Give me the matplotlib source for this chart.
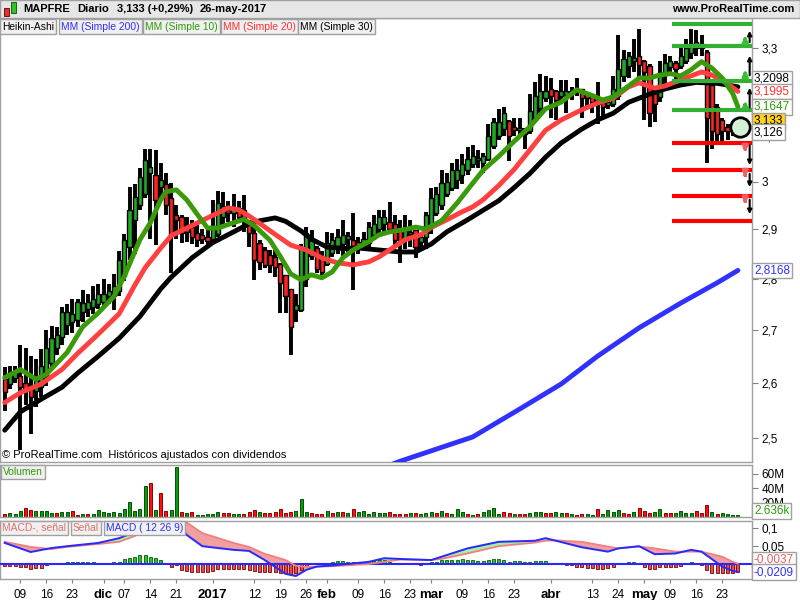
import numpy as np
import pandas as pd
import matplotlib
matplotlib.use('Agg')
import matplotlib.pyplot as plt
import matplotlib.transforms as mtransforms
from matplotlib.patches import Rectangle
from matplotlib.ticker import NullLocator, NullFormatter

plt.rcParams['font.family'] = ['Liberation Sans', 'DejaVu Sans']

# --- data -------------------------------------------------------------
# trading days of the Madrid exchange
holidays = ['2016-12-26', '2017-04-14', '2017-04-17', '2017-05-01']
dates = pd.bdate_range('2016-11-04', '2017-05-26', freq='C', holidays=holidays)

# Heikin-Ashi candles (open, close, high, low)
ha_open = [2.607, 2.598, 2.610, 2.612, 2.600, 2.592, 2.585, 2.592, 2.612, 2.638,
           2.665, 2.686, 2.710, 2.715, 2.720, 2.735, 2.740, 2.745, 2.750, 2.755,
           2.765, 2.765, 2.775, 2.806, 2.865, 2.920, 2.950, 2.975, 3.020, 3.015,
           2.990, 2.995, 2.966, 2.930, 2.926, 2.910, 2.905, 2.893, 2.888, 2.884,
           2.880, 2.890, 2.925, 2.940, 2.935, 2.945, 2.940, 2.912, 2.893, 2.873,
           2.858, 2.848, 2.844, 2.830, 2.808, 2.780, 2.738, 2.739, 2.800, 2.846,
           2.862, 2.842, 2.830, 2.852, 2.866, 2.870, 2.880, 2.879, 2.875, 2.866,
           2.873, 2.889, 2.900, 2.912, 2.916, 2.912, 2.899, 2.880, 2.890, 2.899,
           2.874, 2.884, 2.905, 2.935, 2.952, 2.975, 2.986, 3.005, 3.015, 3.025,
           3.038, 3.046, 3.040, 3.050, 3.078, 3.100, 3.115, 3.132, 3.120, 3.112,
           3.115, 3.110, 3.135, 3.162, 3.185, 3.205, 3.200, 3.190, 3.192, 3.195,
           3.198, 3.205, 3.195, 3.190, 3.182, 3.176, 3.168, 3.172, 3.190, 3.235,
           3.258, 3.270, 3.280, 3.270, 3.258, 3.200, 3.186, 3.240, 3.255, 3.265,
           3.258, 3.270, 3.288, 3.300, 3.310, 3.290, 3.215, 3.165, 3.135, 3.120,
           3.115, 3.112]
ha_close = [2.584, 2.620, 2.620, 2.592, 2.588, 2.575, 2.605, 2.632, 2.665, 2.685,
            2.690, 2.735, 2.735, 2.730, 2.755, 2.752, 2.755, 2.760, 2.770, 2.770,
            2.775, 2.785, 2.838, 2.879, 2.941, 2.968, 3.010, 3.047, 3.032, 2.962,
            3.005, 2.950, 2.889, 2.920, 2.893, 2.895, 2.885, 2.878, 2.880, 2.876,
            2.905, 2.955, 2.948, 2.935, 2.945, 2.925, 2.917, 2.893, 2.838, 2.834,
            2.828, 2.828, 2.824, 2.792, 2.765, 2.706, 2.748, 2.864, 2.893, 2.879,
            2.820, 2.814, 2.873, 2.879, 2.885, 2.889, 2.886, 2.866, 2.860, 2.880,
            2.905, 2.912, 2.926, 2.926, 2.900, 2.879, 2.872, 2.899, 2.895, 2.864,
            2.884, 2.930, 2.966, 2.975, 2.997, 3.000, 3.025, 3.025, 3.038, 3.050,
            3.055, 3.052, 3.055, 3.100, 3.130, 3.130, 3.150, 3.100, 3.112, 3.118,
            3.105, 3.155, 3.190, 3.200, 3.200, 3.190, 3.180, 3.200, 3.200, 3.200,
            3.206, 3.185, 3.185, 3.175, 3.170, 3.165, 3.176, 3.205, 3.250, 3.275,
            3.280, 3.276, 3.260, 3.245, 3.150, 3.172, 3.245, 3.265, 3.270, 3.250,
            3.280, 3.300, 3.310, 3.315, 3.300, 3.140, 3.110, 3.105, 3.110, 3.110,
            3.110, 3.120]
ha_high = [2.630, 2.632, 2.632, 2.672, 2.665, 2.650, 2.645, 2.663, 2.700, 2.708,
           2.705, 2.745, 2.750, 2.760, 2.760, 2.778, 2.770, 2.785, 2.790, 2.800,
           2.790, 2.810, 2.855, 2.890, 2.990, 2.995, 3.030, 3.070, 3.072, 3.069,
           3.040, 3.020, 2.998, 2.950, 2.930, 2.925, 2.920, 2.910, 2.900, 2.900,
           2.962, 2.980, 2.978, 2.960, 2.975, 2.960, 2.972, 2.920, 2.905, 2.879,
           2.864, 2.858, 2.858, 2.832, 2.808, 2.780, 2.770, 2.870, 2.905, 2.899,
           2.866, 2.856, 2.895, 2.893, 2.900, 2.920, 2.895, 2.935, 2.885, 2.895,
           2.915, 2.930, 2.940, 2.940, 2.958, 2.930, 2.920, 2.930, 2.920, 2.899,
           2.890, 2.937, 2.987, 2.990, 3.025, 3.020, 3.040, 3.050, 3.060, 3.075,
           3.080, 3.068, 3.062, 3.125, 3.140, 3.160, 3.165, 3.135, 3.140, 3.140,
           3.117, 3.193, 3.220, 3.240, 3.235, 3.230, 3.202, 3.225, 3.225, 3.210,
           3.230, 3.206, 3.196, 3.192, 3.220, 3.185, 3.186, 3.235, 3.330, 3.295,
           3.290, 3.320, 3.345, 3.272, 3.262, 3.210, 3.270, 3.285, 3.280, 3.270,
           3.300, 3.320, 3.345, 3.342, 3.330, 3.295, 3.225, 3.170, 3.140, 3.125,
           3.125, 3.135]
ha_low = [2.549, 2.588, 2.600, 2.478, 2.560, 2.507, 2.555, 2.575, 2.595, 2.626,
          2.652, 2.672, 2.690, 2.695, 2.705, 2.715, 2.725, 2.730, 2.740, 2.745,
          2.750, 2.739, 2.765, 2.795, 2.838, 2.850, 2.940, 2.966, 2.880, 2.868,
          2.960, 2.930, 2.812, 2.880, 2.872, 2.875, 2.870, 2.865, 2.870, 2.862,
          2.875, 2.885, 2.905, 2.915, 2.905, 2.915, 2.895, 2.864, 2.798, 2.818,
          2.822, 2.812, 2.804, 2.733, 2.733, 2.653, 2.716, 2.735, 2.784, 2.838,
          2.812, 2.806, 2.826, 2.844, 2.850, 2.844, 2.852, 2.778, 2.850, 2.858,
          2.865, 2.879, 2.893, 2.890, 2.895, 2.865, 2.832, 2.860, 2.865, 2.842,
          2.855, 2.860, 2.890, 2.928, 2.940, 2.968, 2.980, 2.985, 2.995, 3.015,
          3.030, 3.030, 3.020, 3.045, 3.070, 3.090, 3.100, 3.045, 3.100, 3.100,
          3.070, 3.105, 3.130, 3.150, 3.175, 3.140, 3.135, 3.170, 3.150, 3.180,
          3.190, 3.140, 3.160, 3.150, 3.125, 3.145, 3.160, 3.165, 3.180, 3.220,
          3.230, 3.245, 3.230, 3.135, 3.120, 3.130, 3.175, 3.200, 3.240, 3.220,
          3.250, 3.262, 3.275, 3.280, 3.280, 3.040, 3.070, 3.080, 3.085, 3.090,
          3.100, 3.100]

# simple moving averages, read at sample bars
ma10_idx = [0, 3, 6, 8, 12, 15, 18, 21, 23, 26, 28, 30, 31, 33, 35, 37, 39, 41, 44, 46,
            48, 51, 53, 55, 57, 59, 61, 63, 65, 67, 70, 72, 74, 77, 79, 81, 84, 87, 90, 92,
            95, 98, 101, 104, 107, 110, 113, 115, 117, 120, 122, 124, 126, 128, 130, 132,
            134, 136, 138, 140, 141]
ma10 = [2.610, 2.625, 2.607, 2.616, 2.657, 2.706, 2.733, 2.765, 2.805, 2.879,
        2.914, 2.962, 2.979, 2.983, 2.962, 2.932, 2.903, 2.903, 2.914, 2.921,
        2.908, 2.878, 2.845, 2.810, 2.798, 2.808, 2.802, 2.814, 2.842, 2.858,
        2.875, 2.889, 2.895, 2.900, 2.905, 2.901, 2.918, 2.955, 2.997, 3.025,
        3.055, 3.088, 3.120, 3.160, 3.175, 3.203, 3.190, 3.180, 3.187, 3.212,
        3.230, 3.230, 3.237, 3.240, 3.235, 3.249, 3.268, 3.253, 3.230, 3.195,
        3.1647]
ma20_idx = [0, 3, 7, 11, 14, 18, 22, 25, 27, 30, 32, 35, 39, 43, 45, 47, 49, 52, 55, 58,
            61, 64, 67, 70, 72, 75, 77, 80, 82, 85, 88, 90, 92, 95, 98, 101, 104, 107, 111,
            114, 117, 120, 122, 125, 127, 130, 134, 136, 139, 141]
ma20 = [2.564, 2.582, 2.598, 2.625, 2.655, 2.692, 2.731, 2.787, 2.822, 2.862,
        2.887, 2.903, 2.924, 2.945, 2.941, 2.928, 2.913, 2.890, 2.868, 2.858,
        2.842, 2.832, 2.828, 2.834, 2.844, 2.865, 2.879, 2.889, 2.904, 2.920,
        2.937, 2.947, 2.962, 2.992, 3.027, 3.069, 3.112, 3.135, 3.158, 3.173,
        3.184, 3.210, 3.219, 3.207, 3.212, 3.226, 3.244, 3.237, 3.217, 3.1995]
ma30_idx = [0, 3, 7, 11, 14, 18, 22, 26, 30, 32, 36, 40, 44, 47, 49, 52, 54, 57, 59, 62,
            65, 68, 72, 76, 79, 82, 85, 89, 92, 95, 98, 101, 104, 107, 111, 114, 117, 120,
            124, 127, 130, 133, 137, 141]
ma30 = [2.514, 2.547, 2.570, 2.592, 2.618, 2.650, 2.684, 2.726, 2.780, 2.803,
        2.842, 2.873, 2.895, 2.912, 2.918, 2.924, 2.917, 2.897, 2.880, 2.864,
        2.861, 2.862, 2.858, 2.854, 2.854, 2.870, 2.895, 2.920, 2.940, 2.960,
        2.988, 3.018, 3.053, 3.084, 3.115, 3.135, 3.150, 3.175, 3.193, 3.205,
        3.214, 3.220, 3.218, 3.2098]
ma200_idx = [74, 76, 90, 99, 107, 114, 122, 130, 137, 141]
ma200 = [2.452, 2.459, 2.502, 2.552, 2.598, 2.650, 2.704, 2.752, 2.792, 2.8168]

# support / resistance levels drawn on the right
res_levels = [3.357, 3.305, 3.224, 3.157]
sup_levels = [3.085, 3.025, 2.970, 2.918]

# volume (millions) and bar colour
volume = [4.0, 5.4, 4.0, 7.8, 12.0, 9.2, 7.8, 7.8, 7.8, 5.0,
          5.0, 6.4, 6.4, 7.8, 2.6, 3.6, 3.6, 3.6, 9.2, 6.4,
          5.4, 6.4, 5.4, 10.6, 20.4, 7.8, 10.6, 42.8, 47.4, 9.2,
          33.4, 7.8, 9.2, 69.4, 6.4, 5.0, 6.4, 2.2, 2.2, 3.6,
          3.6, 6.4, 5.0, 5.0, 3.6, 3.6, 3.6, 6.4, 9.2, 6.4,
          5.0, 5.0, 6.4, 11.0, 5.4, 6.4, 7.8, 24.6, 6.4, 5.0,
          3.6, 3.6, 7.8, 5.0, 6.4, 6.4, 5.0, 10.6, 6.4, 7.8,
          3.6, 6.4, 5.0, 5.0, 6.4, 3.6, 3.6, 3.6, 5.0, 5.0,
          3.6, 5.0, 6.4, 5.0, 7.8, 5.0, 3.6, 10.6, 6.4, 3.6,
          2.2, 3.6, 6.4, 9.2, 12.0, 3.6, 6.4, 5.0, 3.6, 3.6,
          3.6, 5.0, 6.4, 6.4, 5.0, 5.0, 6.4, 5.0, 5.0, 3.6,
          2.2, 3.6, 3.6, 2.2, 10.6, 3.6, 9.2, 6.4, 9.2, 5.0,
          3.6, 6.4, 12.0, 7.8, 5.0, 6.4, 10.6, 5.0, 5.0, 5.0,
          7.8, 5.0, 5.0, 7.8, 5.0, 16.6, 6.4, 3.6, 5.0, 3.6,
          2.2, 2.6]
vol_dir = ('rgggrrgggg' 'rggrrgrggg' 'ggggggggrg' 'rrggrgrggg' 'ggrrggrrrg'
           'rrrrrrgggr' 'rrgrgrgrgg' 'ggggrrrrgr' 'gggrgrgggr' 'grggggrrgr'
           'rgggrrggrg' 'rrggrggggr' 'rgrrrggrrg' 'gggrrrgrgg' 'gg')

# MACD (12 26 9): lines read at sample bars, histogram per bar
macd_idx = [0, 5, 9, 12, 18, 22, 25, 27, 29, 31, 33, 35, 38, 44, 47, 50, 54, 56, 58, 60,
            63, 70, 73, 76, 82, 84, 89, 95, 102, 104, 106, 111, 116, 118, 122, 125, 129,
            132, 134, 138, 140, 141]
macd = [0.059, 0.034, 0.045, 0.050, 0.059, 0.072, 0.089, 0.108, 0.128, 0.135,
        0.118, 0.081, 0.050, 0.040, 0.037, 0.012, -0.026, -0.032, -0.015, -0.006,
        -0.003, 0.007, 0.017, 0.015, 0.012, 0.021, 0.044, 0.062, 0.065, 0.072,
        0.065, 0.047, 0.035, 0.044, 0.050, 0.028, 0.030, 0.040, 0.035, -0.006,
        -0.018, -0.0209]
signal = [0.062, 0.048, 0.042, 0.048, 0.056, 0.062, 0.078, 0.094, 0.108, 0.120,
          0.128, 0.115, 0.086, 0.059, 0.048, 0.029, 0.012, -0.004, -0.007, -0.006,
          -0.005, 0.001, 0.007, 0.013, 0.012, 0.015, 0.030, 0.050, 0.060, 0.065,
          0.066, 0.062, 0.049, 0.044, 0.049, 0.044, 0.035, 0.035, 0.035, 0.021,
          0.007, 0.002]
macd_hist = [-4.7, -4.7, -4.7, -6.3, -8.3, -13.8, -11, -9.1, -2.75, 0.5,
             0, 4.7, 7.4, 7.4, 7.4, 7.4, 7.4, 7.4, 4.7, 4.7,
             4.7, 7.4, 7.4, 13.8, 18.4, 21.2, 25.6, 25.6, 19.3, 18.4,
             11.8, 0.5, -6.3, -2, -15.7, -18.4, -20, -20, -20, -20,
             -17.3, -13.8, -11.8, -11.8, -11.8, -11.8, -12.9, -15.7, -18.4, -20,
             -20, -22, -22, -24.8, -24.8, -27.5, -24.8, -15.7, -4.7, 2.75,
             0, 0, 4.7, 7.4, 9.1, 9.1, 7.4, 7.4, 4.7, 7.4,
             9.1, 9.1, 11.8, 11.8, 7.4, 4.7, 2.75, 2.75, 2.75, 0,
             -2.75, 0, 5.5, 5.5, 11.8, 11.8, 11.8, 11.8, 13.8, 11.8,
             11.8, 9.1, 9.1, 11.8, 14.6, 14.6, 11.8, 7.4, 9.1, 9.1,
             5.5, 5.5, 9.1, 9.1, 9.1, 2.75, 0, 0, -2.75, -2.75,
             -6.3, -8.3, -11, -11, -13.8, -13.8, -11, -8.3, 0, 2.75,
             5.5, 5.5, 0, -8.3, -12.9, -12.9, -8.3, -8.3, -6.3, -6.3,
             -4.7, 0, 5.5, 2.75, -2.75, -15.7, -22.8, -24.8, -24.8, -24.8,
             -22.8, -20]  # in thousandths

tick_dates = ['2016-11-09', '2016-11-16', '2016-11-23', '2016-12-01', '2016-12-07',
              '2016-12-14', '2016-12-21', '2017-01-02', '2017-01-12', '2017-01-19',
              '2017-01-26', '2017-02-01', '2017-02-09', '2017-02-16', '2017-02-23',
              '2017-03-01', '2017-03-09', '2017-03-16', '2017-03-23', '2017-04-03',
              '2017-04-13', '2017-04-24', '2017-05-02', '2017-05-09', '2017-05-16',
              '2017-05-23']
tick_labels = ['09', '16', '23', 'dic', '07', '14', '21', '2017', '12', '19', '26', 'feb',
               '09', '16', '23', 'mar', '09', '16', '23', 'abr', '13', '24', 'may', '09',
               '16', '23']
month_labels = ['dic', '2017', 'feb', 'mar', 'abr', 'may']

# --- figure -----------------------------------------------------------
W, H = 800, 600
fig = plt.figure(figsize=(8, 6), dpi=100)
fig.patch.set_facecolor('white')

def fx(px):
    return px / W

def fy(py):
    return 1 - py / H

ax = fig.add_axes([0.0, fy(462), fx(752), (462 - 18) / H])
axv = fig.add_axes([0.0, fy(517), fx(752), 52 / H])
axm = fig.add_axes([0.0, fy(579), fx(752), 58 / H])

x = np.arange(len(dates))
o = np.array(ha_open)
c = np.array(ha_close)
GREEN = '#22a822'
RED = '#ff2222'
GREY = '#a0a0a0'

# Heikin-Ashi candles
ax.vlines(x, ha_low, ha_high, color='black', lw=2.8, zorder=2)
body_col = np.where(c >= o, GREEN, RED)
ax.bar(x, c - o, bottom=o, width=0.78, color=body_col, edgecolor='black', lw=1.0, zorder=3)

# moving averages
ax.plot(ma200_idx, ma200, color='#3030ff', lw=3.5, zorder=4, solid_capstyle='round')
ax.plot(ma30_idx, ma30, color='black', lw=3.5, zorder=4, solid_capstyle='round')
ax.plot(ma20_idx, ma20, color='#ff4040', lw=3.5, zorder=5, solid_capstyle='round')
ax.plot(ma10_idx, ma10, color='#3a9a0a', lw=3.5, zorder=6, solid_capstyle='round')

# support / resistance lines with arrows
sr_start = (672 - 4.7) / 5.2
x_right = (752 - 4.7) / 5.2
ax.hlines(res_levels, sr_start, x_right, color='#33b033', lw=3, zorder=7)
ax.hlines(sup_levels, sr_start, x_right, color='#ff0000', lw=3, zorder=7)
arr_x = x_right - 1.3
blk_x = x_right - 0.45
for lo, hi in [(3.312, 3.335), (3.230, 3.255), (3.158, 3.184)]:
    ax.annotate('', xy=(arr_x, hi), xytext=(arr_x, lo), zorder=8, annotation_clip=False,
                arrowprops=dict(arrowstyle='-|>', color='#33c033', lw=2.5, mutation_scale=7))
for hi, lo in [(3.080, 3.058), (3.021, 3.004), (2.966, 2.948)]:
    ax.annotate('', xy=(arr_x, lo), xytext=(arr_x, hi), zorder=8, annotation_clip=False,
                arrowprops=dict(arrowstyle='-|>', color='#f06060', lw=2.5, mutation_scale=7))
for lo, hi in [(3.307, 3.347), (3.230, 3.288), (3.157, 3.214)]:
    ax.annotate('', xy=(blk_x, hi), xytext=(blk_x, lo), zorder=8, annotation_clip=False,
                arrowprops=dict(arrowstyle='-|>', color='black', lw=1.5, mutation_scale=6))
for hi, lo in [(3.085, 3.030), (3.023, 2.983), (2.968, 2.926)]:
    ax.annotate('', xy=(blk_x, lo), xytext=(blk_x, hi), zorder=8, annotation_clip=False,
                arrowprops=dict(arrowstyle='-|>', color='black', lw=1.5, mutation_scale=6))

# marker on the last bar
ax.plot(x[-1] + 0.4, 3.12, 'o', ms=14, mfc='#d6f0d6', mec='black', mew=2, zorder=9)

ax.set_yscale('log')
ax.set_ylim(2.4578, 3.371)
price_ticks = [2.5, 2.6, 2.7, 2.8, 2.9, 3.0, 3.1, 3.2, 3.3]
price_labels = ['2,5', '2,6', '2,7', '2,8', '2,9', '3', '3,1', '3,2', '3,3']
ax.yaxis.set_minor_locator(NullLocator())
ax.yaxis.set_minor_formatter(NullFormatter())
ax.set_yticks(price_ticks, labels=price_labels)
for lab in ax.get_yticklabels():
    if lab.get_text() in ('3', '2,5'):
        lab.set_fontweight('bold')
        lab.set_fontsize(10)

for a in (ax, axv, axm):
    a.set_xlim(-4.7 / 5.2, x_right)
    a.yaxis.tick_right()
    a.tick_params(axis='y', direction='out', length=4, color='#808080', labelsize=8.5, pad=3)
    a.tick_params(axis='x', length=0, labelbottom=False)
    for s in a.spines.values():
        s.set_color(GREY)
        s.set_linewidth(1)
    a.set_facecolor('white')

# value boxes on the right edge
def value_box(a, val, txt, col, fc='white', dy=0):
    tr = mtransforms.blended_transform_factory(a.transAxes, a.transData)
    tr = mtransforms.offset_copy(tr, fig=fig, x=2, y=dy, units='dots')
    a.text(1.0, val, txt, transform=tr, color=col, fontsize=8.5, va='center', ha='left',
           zorder=20, clip_on=False,
           bbox=dict(boxstyle='square,pad=0.15', fc=fc, ec=GREY, lw=1))

value_box(ax, 3.2098, '3,2098', 'black', dy=8)
value_box(ax, 3.1995, '3,1995', '#ff3030')
value_box(ax, 3.1647, '3,1647', '#2f9a0a')
value_box(ax, 3.133, '3,133', 'black', fc='#ffd21f')
value_box(ax, 3.126, '3,126', 'black', dy=-8)
value_box(ax, 2.8168, '2,8168', '#3030ff')

# volume panel
vcol = ['#0a9a0a' if d == 'g' else '#ff1010' for d in vol_dir]
vedge = ['#035003' if d == 'g' else '#900000' for d in vol_dir]
axv.bar(x, volume, width=0.55, color=vcol, edgecolor=vedge, lw=0.7)
axv.set_ylim(0, 72)
axv.set_yticks([20, 40, 60], labels=['20M', '40M', '60M'])
value_box(axv, 2.636, '2.636k', '#2f9a0a', dy=4)

# MACD panel
mi = np.array(macd_idx)
mv = np.array(macd)
sv = np.array(signal)
axm.fill_between(mi, mv, sv, where=mv >= sv, interpolate=True, color='#a8eea0', lw=0)
axm.fill_between(mi, mv, sv, where=mv < sv, interpolate=True, color='#f0a0a0', lw=0)
hist = np.array(macd_hist) / 1000
hcol = ['#30c030' if h >= 0 else '#e05050' for h in hist]
hedge = ['#006000' if h >= 0 else '#800000' for h in hist]
axm.bar(x, hist, width=0.6, color=hcol, edgecolor=hedge, lw=0.6, zorder=3)
axm.axhline(0, color='#2828ff', lw=1.5, zorder=4)
axm.plot(mi, sv, color='#f08080', lw=1.3, zorder=5)
axm.plot(mi, mv, color='#2828ff', lw=1.4, zorder=6)
axm.set_ylim(-0.0401, 0.1192)
axm.set_yticks([0.05, 0.1], labels=['0,05', '0,1'])
value_box(axm, -0.0037, '-0,0037', '#e06060', dy=6)
value_box(axm, -0.0209, '-0,0209', '#3030ff')

# date axis
tick_pos = [dates.get_loc(pd.Timestamp(d)) for d in tick_dates]
axm.set_xticks(tick_pos, labels=tick_labels)
axm.tick_params(axis='x', length=3, color='#808080', labelbottom=True, labelsize=8.5, pad=4)
for lab in axm.get_xticklabels():
    if lab.get_text() in month_labels:
        lab.set_fontweight('bold')
        lab.set_fontsize(9.5)

# header bar
fig.patches.append(Rectangle((0, fy(18)), 1, 18 / H, transform=fig.transFigure,
                             fc='#e6e6e6', ec=GREY, lw=1, zorder=0))
fig.patches.append(Rectangle((fx(4), fy(16)), fx(5), 8 / H, transform=fig.transFigure,
                             fc='#e03030', ec='#600000', lw=0.6, zorder=2))
fig.patches.append(Rectangle((fx(11), fy(13)), fx(5), 11 / H, transform=fig.transFigure,
                             fc='#30c030', ec='#005000', lw=0.6, zorder=2))
fig.text(fx(23), fy(9), 'MAPFRE', fontsize=8, fontweight='bold', va='center')
fig.text(fx(77), fy(9), 'Diario', fontsize=8, fontweight='bold', va='center')
fig.text(fx(117), fy(9), '3,133 (+0,29%)', fontsize=8, fontweight='bold', va='center')
fig.text(fx(200), fy(9), '26-may-2017', fontsize=8, fontweight='bold', va='center')
fig.text(fx(794), fy(9), 'www.ProRealTime.com', fontsize=8, fontweight='bold',
         va='center', ha='right')

# indicator legends
def legend_box(px, py, txt, col):
    fig.text(fx(px), fy(py), txt, color=col, fontsize=7.4, va='center', ha='left', zorder=10,
             bbox=dict(boxstyle='square,pad=0.2', fc='#f0f0f0', ec=GREY, lw=1))

legend_box(2, 26.5, 'Heikin-Ashi', 'black')
legend_box(61, 26.5, 'MM (Simple 200)', '#3030ff')
legend_box(145, 26.5, 'MM (Simple 10)', '#2f9a0a')
legend_box(223, 26.5, 'MM (Simple 20)', '#ff3030')
legend_box(300, 26.5, 'MM (Simple 30)', 'black')
legend_box(3, 472, 'Volumen', '#2f9a0a')
legend_box(2, 528, 'MACD-, señal', '#e07070')
legend_box(73, 528, 'Señal', '#e07070')
legend_box(106, 528, 'MACD ( 12 26 9)', '#3030ff')

fig.text(fx(2), fy(455), '© ProRealTime.com  Históricos ajustados con dividendos',
         fontsize=8, va='center', ha='left')

fig.savefig('out.png', dpi=100)
